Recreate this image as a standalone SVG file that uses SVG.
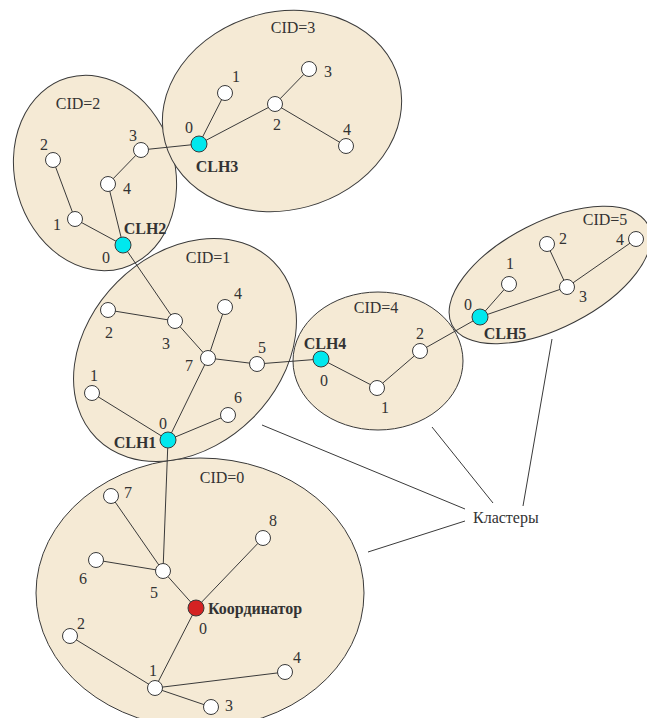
<svg xmlns="http://www.w3.org/2000/svg" width="647" height="718" viewBox="0 0 647 718">
  <style>
    .cluster { fill: #f5ead5; stroke: #3a3a3a; stroke-width: 1; }
    .edge { stroke: #3a3a3a; stroke-width: 1; fill: none; }
    .pointer { stroke: #3a3a3a; stroke-width: 1; fill: none; }
    .node { fill: #ffffff; stroke: #3a3a3a; stroke-width: 1; }
    .head { fill: #00e8ee; stroke: #3a3a3a; stroke-width: 1; }
    .coord { fill: #d42222; stroke: #3a3a3a; stroke-width: 1; }
    text { font-family: "Liberation Serif", "Times New Roman", serif; font-size: 16px; fill: #333333; text-anchor: middle; }
    .bold { font-weight: bold; }
  </style>

  <!-- cluster areas -->
  <g id="clusters">
    <ellipse id="cid0" class="cluster" cx="200" cy="593" rx="164" ry="135"/>
    <ellipse id="cid1" class="cluster" cx="185" cy="350" rx="125" ry="96" transform="rotate(-45 185 350)"/>
    <ellipse id="cid2" class="cluster" cx="95" cy="173" rx="80" ry="99" transform="rotate(-16 95 173)"/>
    <ellipse id="cid3" class="cluster" cx="282" cy="111" rx="121" ry="99" transform="rotate(-15 282 111)"/>
    <ellipse id="cid4" class="cluster" cx="378" cy="361" rx="85" ry="69"/>
    <ellipse id="cid5" class="cluster" cx="550" cy="275" rx="110" ry="53" transform="rotate(-27 550 275)"/>
  </g>

  <!-- links between nodes -->
  <g id="connectors">
    <!-- CID=3 -->
    <line class="edge" x1="199" y1="144" x2="225" y2="93"/>
    <line class="edge" x1="199" y1="144" x2="275" y2="104"/>
    <line class="edge" x1="275" y1="104" x2="309" y2="69"/>
    <line class="edge" x1="275" y1="104" x2="346" y2="146"/>
    <line class="edge" x1="199" y1="144" x2="141" y2="150"/>
    <!-- CID=2 -->
    <line class="edge" x1="141" y1="150" x2="108" y2="184"/>
    <line class="edge" x1="108" y1="184" x2="123" y2="245"/>
    <line class="edge" x1="123" y1="245" x2="75" y2="219"/>
    <line class="edge" x1="75" y1="219" x2="53" y2="160"/>
    <line class="edge" x1="123" y1="245" x2="175" y2="321"/>
    <!-- CID=1 -->
    <line class="edge" x1="108" y1="310" x2="175" y2="321"/>
    <line class="edge" x1="175" y1="321" x2="208" y2="358"/>
    <line class="edge" x1="208" y1="358" x2="225" y2="307"/>
    <line class="edge" x1="208" y1="358" x2="257" y2="364"/>
    <line class="edge" x1="208" y1="358" x2="168" y2="440"/>
    <line class="edge" x1="92" y1="393" x2="168" y2="440"/>
    <line class="edge" x1="228" y1="415" x2="168" y2="440"/>
    <line class="edge" x1="257" y1="364" x2="321" y2="359"/>
    <line class="edge" x1="168" y1="440" x2="163" y2="571"/>
    <!-- CID=4 -->
    <line class="edge" x1="321" y1="359" x2="377" y2="388"/>
    <line class="edge" x1="377" y1="388" x2="420" y2="351"/>
    <line class="edge" x1="420" y1="351" x2="480" y2="317"/>
    <!-- CID=5 -->
    <line class="edge" x1="480" y1="317" x2="509" y2="284"/>
    <line class="edge" x1="480" y1="317" x2="567" y2="287"/>
    <line class="edge" x1="567" y1="287" x2="547" y2="244"/>
    <line class="edge" x1="567" y1="287" x2="636" y2="239"/>
    <!-- CID=0 -->
    <line class="edge" x1="196" y1="608" x2="163" y2="571"/>
    <line class="edge" x1="163" y1="571" x2="111" y2="496"/>
    <line class="edge" x1="163" y1="571" x2="96" y2="560"/>
    <line class="edge" x1="196" y1="608" x2="263" y2="538"/>
    <line class="edge" x1="196" y1="608" x2="155" y2="688"/>
    <line class="edge" x1="155" y1="688" x2="70" y2="636"/>
    <line class="edge" x1="155" y1="688" x2="285" y2="672"/>
    <line class="edge" x1="155" y1="688" x2="211" y2="707"/>
    <!-- callout lines for the cluster caption -->
    <line class="pointer" x1="262" y1="425" x2="465" y2="509"/>
    <line class="pointer" x1="432" y1="427" x2="493" y2="503"/>
    <line class="pointer" x1="552" y1="339" x2="523" y2="506"/>
    <line class="pointer" x1="368" y1="552" x2="465" y2="521"/>
  </g>

  <!-- cluster 3 -->
  <g id="cluster3-nodes">
    <text x="293" y="33">CID=3</text>
    <circle id="c3n1" class="node" cx="225" cy="93" r="7.5"/>
    <text x="236" y="82">1</text>
    <circle id="c3n2" class="node" cx="275" cy="104" r="7.5"/>
    <text x="277" y="130">2</text>
    <circle id="c3n3" class="node" cx="309" cy="69" r="7.5"/>
    <text x="328" y="77">3</text>
    <circle id="c3n4" class="node" cx="346" cy="146" r="7.5"/>
    <text x="347" y="135">4</text>
    <g id="CLH3">
      <circle class="head" cx="199" cy="144" r="8"/>
      <text x="189" y="133">0</text>
      <text class="bold" x="217" y="172">CLH3</text>
    </g>
  </g>

  <!-- cluster 2 -->
  <g id="cluster2-nodes">
    <text x="78" y="109">CID=2</text>
    <circle id="c2n2" class="node" cx="53" cy="160" r="7.5"/>
    <text x="44" y="150">2</text>
    <circle id="c2n3" class="node" cx="141" cy="150" r="7.5"/>
    <text x="133" y="141">3</text>
    <circle id="c2n4" class="node" cx="108" cy="184" r="7.5"/>
    <text x="127" y="194">4</text>
    <circle id="c2n1" class="node" cx="75" cy="219" r="7.5"/>
    <text x="57" y="230">1</text>
    <g id="CLH2">
      <circle class="head" cx="123" cy="245" r="8"/>
      <text x="106" y="263">0</text>
      <text class="bold" x="145" y="234">CLH2</text>
    </g>
  </g>

  <!-- cluster 1 -->
  <g id="cluster1-nodes">
    <text x="208" y="263">CID=1</text>
    <circle id="c1n2" class="node" cx="108" cy="310" r="7.5"/>
    <text x="109" y="338">2</text>
    <circle id="c1n3" class="node" cx="175" cy="321" r="7.5"/>
    <text x="166" y="349">3</text>
    <circle id="c1n4" class="node" cx="225" cy="307" r="7.5"/>
    <text x="238" y="299">4</text>
    <circle id="c1n7" class="node" cx="208" cy="358" r="7.5"/>
    <text x="189" y="371">7</text>
    <circle id="c1n5" class="node" cx="257" cy="364" r="7.5"/>
    <text x="262" y="353">5</text>
    <circle id="c1n1" class="node" cx="92" cy="393" r="7.5"/>
    <text x="94" y="381">1</text>
    <circle id="c1n6" class="node" cx="228" cy="415" r="7.5"/>
    <text x="238" y="403">6</text>
    <g id="CLH1">
      <circle class="head" cx="168" cy="440" r="8"/>
      <text x="163" y="429">0</text>
      <text class="bold" x="135" y="448">CLH1</text>
    </g>
  </g>

  <!-- cluster 4 -->
  <g id="cluster4-nodes">
    <text x="376" y="313">CID=4</text>
    <circle id="c4n1" class="node" cx="377" cy="388" r="7.5"/>
    <text x="385" y="413">1</text>
    <circle id="c4n2" class="node" cx="420" cy="351" r="7.5"/>
    <text x="420" y="339">2</text>
    <g id="CLH4">
      <circle class="head" cx="321" cy="359" r="8"/>
      <text x="324" y="386">0</text>
      <text class="bold" x="325" y="349">CLH4</text>
    </g>
  </g>

  <!-- cluster 5 -->
  <g id="cluster5-nodes">
    <text x="605" y="225">CID=5</text>
    <circle id="c5n1" class="node" cx="509" cy="284" r="7.5"/>
    <text x="510" y="269">1</text>
    <circle id="c5n2" class="node" cx="547" cy="244" r="7.5"/>
    <text x="563" y="244">2</text>
    <circle id="c5n3" class="node" cx="567" cy="287" r="7.5"/>
    <text x="583" y="302">3</text>
    <circle id="c5n4" class="node" cx="636" cy="239" r="7.5"/>
    <text x="620" y="245">4</text>
    <g id="CLH5">
      <circle class="head" cx="480" cy="317" r="8"/>
      <text x="468" y="310">0</text>
      <text class="bold" x="505" y="339">CLH5</text>
    </g>
  </g>

  <!-- cluster 0 -->
  <g id="cluster0-nodes">
    <text x="222" y="483">CID=0</text>
    <circle id="c0n7" class="node" cx="111" cy="496" r="7.5"/>
    <text x="128" y="498">7</text>
    <circle id="c0n8" class="node" cx="263" cy="538" r="7.5"/>
    <text x="273" y="526">8</text>
    <circle id="c0n6" class="node" cx="96" cy="560" r="7.5"/>
    <text x="83" y="584">6</text>
    <circle id="c0n5" class="node" cx="163" cy="571" r="7.5"/>
    <text x="154" y="598">5</text>
    <circle id="c0n2" class="node" cx="70" cy="636" r="7.5"/>
    <text x="81" y="629">2</text>
    <circle id="c0n1" class="node" cx="155" cy="688" r="7.5"/>
    <text x="153" y="676">1</text>
    <circle id="c0n4" class="node" cx="285" cy="672" r="7.5"/>
    <text x="297" y="663">4</text>
    <circle id="c0n3" class="node" cx="211" cy="707" r="7.5"/>
    <text x="229" y="711">3</text>
    <g id="coordinator">
      <circle class="coord" cx="196" cy="608" r="8"/>
      <text x="203" y="634">0</text>
      <text class="bold" x="208" y="614" style="text-anchor: start">Координатор</text>
    </g>
  </g>

  <!-- caption -->
  <g id="caption">
    <text x="473" y="523" style="text-anchor: start">Кластеры</text>
  </g>
</svg>
